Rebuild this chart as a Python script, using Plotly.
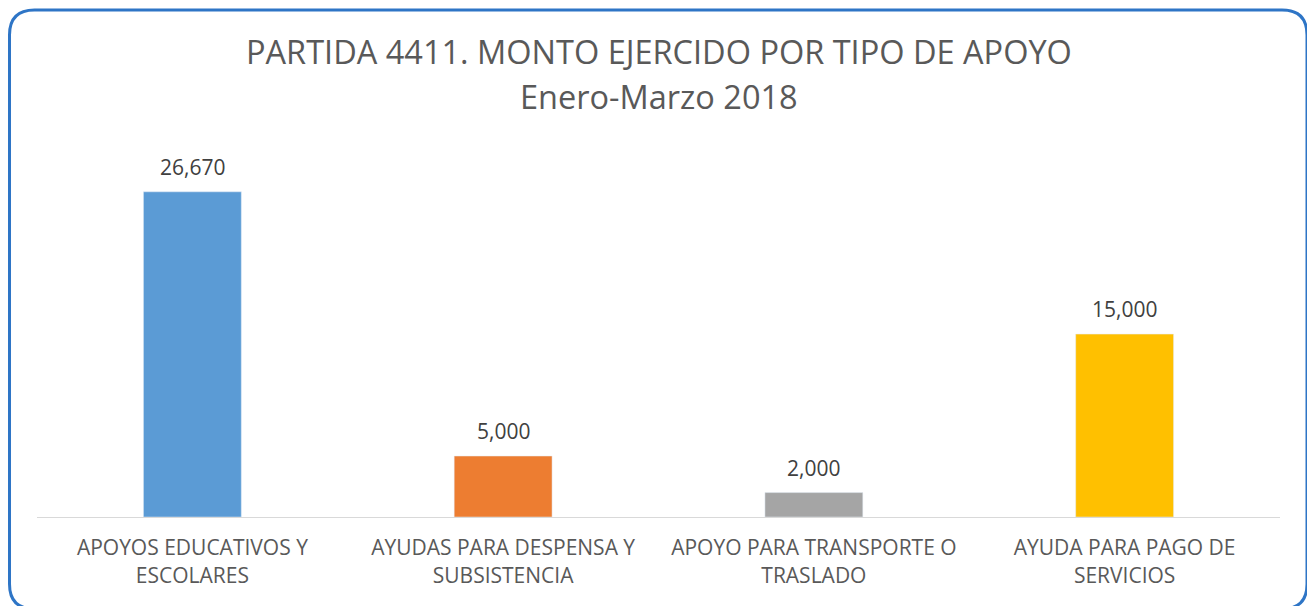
import plotly.graph_objects as go

categories = ["APOYOS EDUCATIVOS Y<br>ESCOLARES", "AYUDAS PARA DESPENSA Y<br>SUBSISTENCIA",
              "APOYO PARA TRANSPORTE O<br>TRASLADO", "AYUDA PARA PAGO DE<br>SERVICIOS"]
values = [26670, 5000, 2000, 15000]
colors = ["#5B9BD5", "#ED7D31", "#A5A5A5", "#FFC000"]
title_lines = ["PARTIDA 4411. MONTO EJERCIDO POR TIPO DE APOYO", "Enero-Marzo 2018"]

W, H = 1315, 606
OFF = 8  # page body margin offset
ML, MR, MT, MB = 37 - OFF, 1315 - (1280 - OFF), 139 - OFF, 606 - (517 - OFF)
PW, PH = W - ML - MR, H - MT - MB
FONT = "Open Sans, sans-serif"

def px_x(p):
    return (p - OFF - ML) / PW

def px_y(p):
    return (H - MB - (p - OFF)) / PH

fig = go.Figure(go.Bar(
    x=categories, y=values, marker_color=colors, width=0.315,
    hoverinfo="skip",
))

for c, v in zip(categories, values):
    fig.add_annotation(x=c, y=v, xref="x", yref="y", text=f"{v:,}", showarrow=False,
                       yanchor="bottom", yshift=9, font=dict(family=FONT, size=21, color="#404040"))

fig.add_annotation(x=0.5, y=px_y(52), xref="paper", yref="paper", text=title_lines[0],
                   showarrow=False, yanchor="middle", font=dict(family=FONT, size=32.5, color="#595959"))
fig.add_annotation(x=0.5, y=px_y(97), xref="paper", yref="paper", text=title_lines[1],
                   showarrow=False, yanchor="middle", font=dict(family=FONT, size=32.5, color="#595959"))

# rounded border
x0, x1, y0, y1 = 9.5, 1307, 10, 609
r = 25
def P(x, y):
    return f"{px_x(x):.5f},{px_y(y):.5f}"
path = (f"M {P(x0 + r, y0)} L {P(x1 - r, y0)} Q {P(x1, y0)} {P(x1, y0 + r)} "
        f"L {P(x1, y1 - r)} Q {P(x1, y1)} {P(x1 - r, y1)} "
        f"L {P(x0 + r, y1)} Q {P(x0, y1)} {P(x0, y1 - r)} "
        f"L {P(x0, y0 + r)} Q {P(x0, y0)} {P(x0 + r, y0)} Z")
fig.add_shape(type="path", path=path, xref="paper", yref="paper",
              line=dict(color="#2E75C6", width=3), layer="above")

fig.update_layout(
    width=W, height=H, margin=dict(l=ML, r=MR, t=MT, b=MB),
    paper_bgcolor="white", plot_bgcolor="white", showlegend=False,
    xaxis=dict(showline=True, linecolor="#D9D9D9", linewidth=1, ticks="",
               tickfont=dict(family=FONT, size=21, color="#595959"), showgrid=False,
               ticklabelstandoff=12),
    yaxis=dict(range=[0, 31000], visible=False, showgrid=False, zeroline=False),
)

fig.write_html("out.html")
